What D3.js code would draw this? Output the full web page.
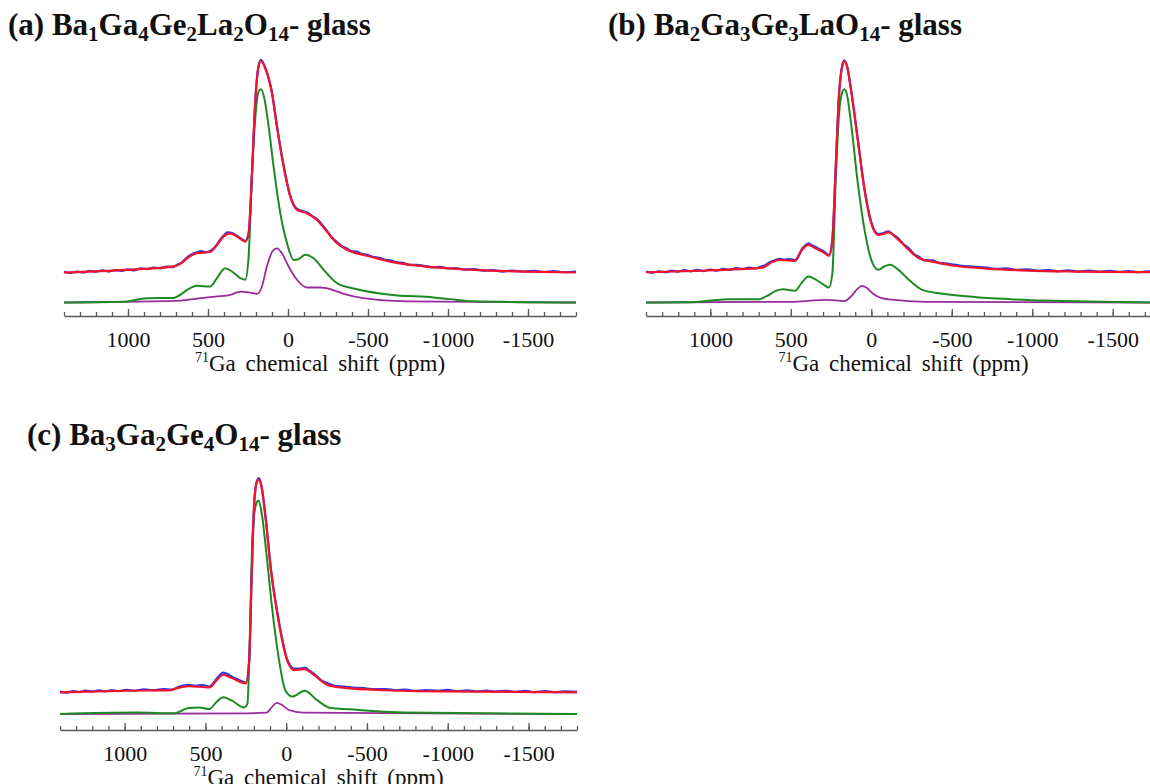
<!DOCTYPE html>
<html>
<head>
<meta charset="utf-8">
<script src="https://cdn.jsdelivr.net/npm/d3@7"></script>
<style>
  body { margin: 0; background: #fff; }
  svg text { font-family: "Liberation Serif", "Times New Roman", serif; }
</style>
</head>
<body>
<svg id="chart" width="1150" height="784"></svg>
<script>
// ----------

const PPM_DOMAIN = [1400, -1800];
const MAJOR_TICKS = [1000, 500, 0, -500, -1000, -1500];
const MINOR_TICKS = d3.range(1400, -1801, -100);
const AXIS_TITLE_SUP = "71";
const AXIS_TITLE = "Ga chemical shift (ppm)";

// title pieces: [text, isSubscript]
const TITLE_A = [["(a) Ba", 0], ["1", 1], ["Ga", 0], ["4", 1], ["Ge", 0], ["2", 1], ["La", 0], ["2", 1], ["O", 0], ["14", 1], ["- glass", 0]];
const TITLE_B = [["(b) Ba", 0], ["2", 1], ["Ga", 0], ["3", 1], ["Ge", 0], ["3", 1], ["LaO", 0], ["14", 1], ["- glass", 0]];
const TITLE_C = [["(c) Ba", 0], ["3", 1], ["Ga", 0], ["2", 1], ["Ge", 0], ["4", 1], ["O", 0], ["14", 1], ["- glass", 0]];

// spectra: [ppm, intensity]
// (a) Ba1Ga4Ge2La2O14
const A_FIT = [[1400,12.6],[1131,13.3],[923,14.0],[715,15.1],[673,16.2],[631,18.5],[569,20.6],[486,21.1],[444,24.0],[402,27.5],[361,28.8],[319,27.5],[267,25.4],[246,28.8],[225,53.6],[204,83.9],[184,97.7],[169,100],[142,97],[100,86.7],[69,72.9],[27,56.4],[-14,44],[-56,38.5],[-118,37.1],[-181,34.3],[-243,29.5],[-306,24.7],[-368,22.0],[-493,19.5],[-639,17.1],[-847,15.1],[-1160,13.7],[-1472,13.0],[-1800,12.6]];
const A_EXP = [[1400,12.9],[1360,12.4],[1320,13.0],[1280,12.6],[1240,13.3],[1200,12.9],[1160,13.5],[1120,13.0],[1080,13.6],[1040,13.3],[1000,13.9],[960,13.5],[920,14.3],[880,14.0],[840,14.6],[800,14.3],[760,15.0],[720,14.8],[690,15.9],[660,16.9],[630,18.9],[600,20.2],[570,20.9],[540,21.4],[510,21.0],[486,21.5],[460,22.8],[440,24.6],[420,26.6],[400,28.0],[380,29.2],[360,29.1],[340,28.6],[320,27.8],[300,26.9],[280,26.0],[267,25.6],[246,28.8],[225,53.6],[204,83.9],[184,97.9],[169,100.5],[142,97.2],[100,86.9],[69,73.1],[27,56.6],[-14,44.3],[-56,38.9],[-90,38.0],[-118,37.5],[-150,36.0],[-181,34.7],[-210,32.6],[-243,29.9],[-275,27.0],[-306,25.2],[-340,23.4],[-368,22.5],[-400,21.4],[-430,21.2],[-460,20.3],[-493,20.0],[-530,19.1],[-570,18.7],[-600,18.0],[-639,17.6],[-680,16.8],[-720,16.6],[-760,15.7],[-800,15.8],[-847,15.4],[-900,14.8],[-950,14.9],[-1000,14.3],[-1050,14.4],[-1100,13.8],[-1160,14.0],[-1220,13.4],[-1280,13.6],[-1340,13.0],[-1400,13.4],[-1472,13.0],[-1540,13.3],[-1600,12.8],[-1660,13.2],[-1720,12.7],[-1800,13.0]];
const A_SITE1 = [[1400,0.2],[1027,0.5],[881,2.0],[715,2.1],[673,3.4],[631,5.4],[569,7.1],[486,6.8],[444,10.3],[392,14.4],[350,13.0],[298,10.3],[267,9.6],[246,19.2],[225,53.6],[204,77],[184,87.4],[169,88.3],[148,84.6],[121,72.9],[90,56.4],[48,37.1],[6,24.7],[-35,17.8],[-66,18.1],[-108,19.9],[-160,18.5],[-223,13.7],[-306,8.2],[-431,5.7],[-639,3.4],[-910,2.3],[-1014,1.6],[-1160,0.7],[-1800,0.2]];
const A_SITE2 = [[1400,0.2],[923,0.6],[673,1.0],[548,2.0],[444,2.7],[361,3.4],[298,4.7],[236,4.3],[190,3.8],[163,6.8],[132,15.1],[94,21.7],[69,22.6],[38,20.6],[-4,15.1],[-56,9.6],[-118,6.4],[-202,6.4],[-264,5.7],[-348,3.8],[-473,2.0],[-743,0.7],[-1800,0.2]];

// (b) Ba2Ga3Ge3LaO14
const B_FIT = [[1400,12.7],[1033,13.4],[822,14.0],[675,14.6],[622,16.7],[569,17.8],[474,17.4],[432,21.9],[390,24.0],[348,22.6],[295,20.8],[263,19.5],[242,26.1],[221,56.4],[200,86.7],[179,98.4],[168,100],[151,97.7],[126,88],[84,67.4],[42,46.7],[0,33],[-43,28.1],[-75,28.6],[-106,29.2],[-169,26.1],[-233,22.0],[-296,18.5],[-380,17.1],[-507,15.5],[-718,14.2],[-971,13.4],[-1288,13.0],[-1800,12.7]];
const B_EXP = [[1400,13.0],[1360,12.5],[1320,13.1],[1280,12.7],[1240,13.4],[1200,13.0],[1160,13.6],[1120,13.1],[1080,13.7],[1040,13.2],[1000,13.8],[960,13.4],[920,14.1],[880,13.7],[840,14.4],[800,14.1],[760,14.6],[720,14.3],[690,15.0],[660,15.6],[630,16.9],[600,17.6],[569,18.2],[540,17.9],[510,18.1],[474,17.7],[450,19.8],[432,22.3],[410,23.8],[390,24.6],[370,23.9],[348,23.2],[320,22.2],[295,21.3],[263,19.8],[242,26.1],[221,56.4],[200,86.7],[179,98.6],[168,100.3],[151,97.9],[126,88.2],[84,67.6],[42,46.9],[0,33.3],[-43,28.5],[-75,28.9],[-106,29.6],[-140,28.0],[-169,26.6],[-200,24.3],[-233,22.6],[-265,20.2],[-296,19.1],[-330,17.6],[-380,17.6],[-420,16.6],[-460,16.4],[-507,15.9],[-560,15.4],[-610,15.1],[-660,14.9],[-718,14.6],[-780,14.1],[-840,14.3],[-900,13.7],[-971,13.9],[-1040,13.3],[-1100,13.6],[-1160,13.1],[-1220,13.5],[-1288,13.0],[-1350,13.4],[-1420,12.9],[-1480,13.3],[-1540,12.8],[-1600,13.2],[-1660,12.7],[-1720,13.1],[-1800,12.8]];
const B_SITE1 = [[1400,0.2],[1139,0.3],[886,1.6],[696,1.6],[654,2.7],[590,5.1],[548,5.7],[474,5.1],[432,8.4],[390,10.9],[348,9.8],[295,7.5],[263,6.4],[242,12.3],[221,50.9],[200,78.4],[179,87.4],[168,88.3],[151,86],[126,74.3],[84,49.5],[42,30.2],[0,17.8],[-43,13.7],[-81,15.1],[-116,15.8],[-169,13.7],[-233,9.6],[-317,5.4],[-444,3.8],[-655,2.4],[-866,1.6],[-1076,1.0],[-1800,0.2]];
const B_SITE2 = [[1400,0.2],[506,0.5],[274,1.3],[168,0.8],[126,2.7],[88,5.7],[59,7.1],[31,6.4],[-11,3.8],[-64,2.0],[-127,1.4],[-338,0.5],[-1800,0.2]];

// (c) Ba3Ga2Ge4O14
const C_FIT = [[1400,9.2],[990,9.9],[711,10.2],[668,11.1],[604,11.9],[475,11.3],[433,14.2],[390,16.7],[336,15.3],[250,13.0],[229,22.7],[214,58.1],[197,90.8],[180,99],[169,99.7],[154,97.1],[128,83.7],[94,61],[47,39.7],[-7,22.7],[-49,18.7],[-114,19.1],[-178,16.3],[-253,12.5],[-360,11.1],[-617,10.1],[-938,9.6],[-1800,9.2]];
const C_EXP = [[1400,9.6],[1360,9.1],[1320,9.7],[1280,9.3],[1240,10.0],[1200,9.5],[1160,10.1],[1120,9.6],[1080,10.2],[1040,9.7],[990,10.3],[940,9.9],[880,10.5],[820,10.1],[760,10.6],[711,10.4],[668,11.5],[630,12.2],[604,12.4],[560,12.0],[520,12.3],[475,11.7],[450,13.2],[433,14.8],[410,16.6],[390,17.6],[360,16.9],[336,15.9],[300,14.8],[270,13.8],[250,13.4],[229,22.7],[214,58.1],[197,90.8],[180,99.4],[169,100.4],[154,97.5],[128,84.1],[94,61.4],[47,40.0],[-7,23.1],[-49,19.3],[-80,19.3],[-114,19.6],[-150,18.2],[-178,16.8],[-215,14.4],[-253,13.2],[-300,12.0],[-360,11.7],[-420,11.2],[-480,11.0],[-540,10.6],[-617,10.6],[-680,10.1],[-740,10.4],[-800,9.8],[-860,10.2],[-938,9.9],[-1000,10.3],[-1060,9.7],[-1120,10.1],[-1180,9.6],[-1240,10.0],[-1300,9.5],[-1360,9.9],[-1420,9.4],[-1480,9.8],[-1540,9.3],[-1600,9.7],[-1660,9.3],[-1720,9.6],[-1800,9.4]];
const C_SITE1 = [[1400,0],[925,0.6],[690,0.3],[657,1.1],[604,2.6],[540,2.8],[475,2.1],[433,5.0],[390,7.1],[336,5.7],[261,2.8],[240,4.3],[223,36.9],[208,76.6],[186,89.3],[171,90.8],[154,86.5],[122,68.1],[90,46.8],[47,24.1],[4,9.9],[-39,7.4],[-114,9.9],[-189,6.0],[-274,2.6],[-403,2.0],[-510,1.4],[-724,0.6],[-1800,0]];
const C_SITE2 = [[1400,0],[240,0.3],[122,0.6],[90,2.8],[58,4.7],[26,3.8],[-17,1.7],[-103,0.6],[-1800,0]];

// ----------

const COLOR_EXP = "#2a3ae8";
const COLOR_FIT = "#f0142d";
const COLOR_SITE1 = "#1d8a22";
const COLOR_SITE2 = "#992c9c";
const AXIS_COLOR = "#5a5a5a";

const panels = [
  { title: TITLE_A, titleX: 8, titleY: 35, x0: 64, x1: 576, axisY: 316, yBase: 303, yTop: 61, xTitleGap: 55,
    exp: A_EXP, fit: A_FIT, site1: A_SITE1, site2: A_SITE2 },
  { title: TITLE_B, titleX: 608, titleY: 35, x0: 646, x1: 1161, axisY: 316, yBase: 303, yTop: 61, xTitleGap: 55,
    exp: B_EXP, fit: B_FIT, site1: B_SITE1, site2: B_SITE2 },
  { title: TITLE_C, titleX: 27, titleY: 445, x0: 60, x1: 577, axisY: 730, yBase: 714, yTop: 479, xTitleGap: 55,
    exp: C_EXP, fit: C_FIT, site1: C_SITE1, site2: C_SITE2 },
];

const svg = d3.select("#chart");

function drawTitle(g, parts, x, y) {
  const t = g.append("text")
    .attr("x", x).attr("y", y)
    .attr("font-size", 31).attr("font-weight", "bold").attr("fill", "#111");
  let wasSub = false;
  parts.forEach(([s, isSub]) => {
    const ts = t.append("tspan").text(s);
    if (isSub) ts.attr("font-size", 21);
    if (isSub && !wasSub) ts.attr("dy", 6);
    if (!isSub && wasSub) ts.attr("dy", -6);
    wasSub = !!isSub;
  });
}

function drawPanel(p) {
  const g = svg.append("g");
  const x = d3.scaleLinear().domain(PPM_DOMAIN).range([p.x0, p.x1]);
  const y = d3.scaleLinear().domain([0, 100]).range([p.yBase, p.yTop]);

  drawTitle(g, p.title, p.titleX, p.titleY);

  const line = d3.line()
    .x(d => x(d[0]))
    .y(d => y(d[1]))
    .curve(d3.curveMonotoneX);

  // experimental first, fit on top
  [[p.site2, COLOR_SITE2, 1.8], [p.site1, COLOR_SITE1, 2], [p.exp, COLOR_EXP, 2.2], [p.fit, COLOR_FIT, 2.2]]
    .forEach(([data, color, w]) => {
      g.append("path")
        .datum(data)
        .attr("fill", "none")
        .attr("stroke", color)
        .attr("stroke-width", w)
        .attr("stroke-linejoin", "round")
        .attr("d", line);
    });

  // minor ticks, pointing up into the plot
  const minor = g.append("g")
    .attr("transform", `translate(0,${p.axisY})`)
    .call(d3.axisBottom(x).tickValues(MINOR_TICKS).tickSize(-4).tickSizeOuter(0).tickFormat(""));
  minor.select(".domain").remove();

  const major = g.append("g")
    .attr("transform", `translate(0,${p.axisY})`)
    .call(d3.axisBottom(x).tickValues(MAJOR_TICKS).tickSize(-7).tickSizeOuter(0)
      .tickPadding(15).tickFormat(d => String(d)));

  g.selectAll(".tick line, .domain").attr("stroke", AXIS_COLOR).attr("stroke-width", 1.3);
  major.attr("font-family", null).attr("font-size", null);
  major.selectAll("text").attr("font-size", 22).attr("fill", "#111");

  const title = g.append("text")
    .attr("x", (p.x0 + p.x1) / 2)
    .attr("y", p.axisY + p.xTitleGap)
    .attr("text-anchor", "middle")
    .attr("font-size", 23)
    .attr("fill", "#111");
  title.append("tspan").text(AXIS_TITLE_SUP).attr("font-size", 14).attr("dy", -9);
  title.append("tspan").text(AXIS_TITLE).attr("dy", 9).attr("word-spacing", 4);
}

panels.forEach(drawPanel);
</script>
</body>
</html>
